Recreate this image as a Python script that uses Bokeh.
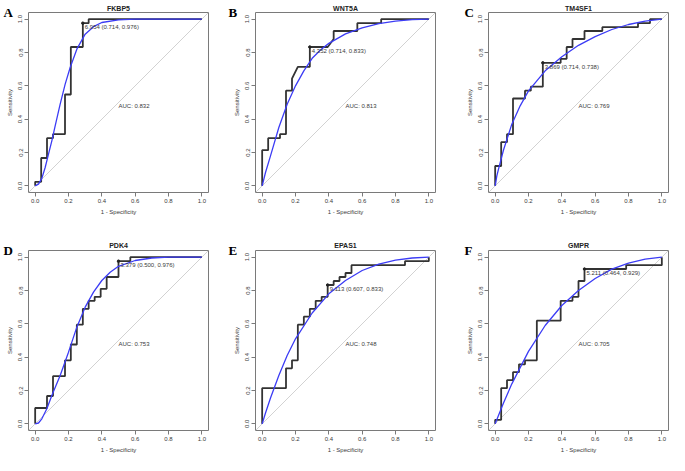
from bokeh.plotting import figure
from bokeh.layouts import column, row
from bokeh.models import Title, Range1d, NumeralTickFormatter, FixedTicker
from bokeh.core.properties import value
from bokeh.embed import file_html
from bokeh.resources import INLINE

# ------------------------------------------------------------------ data
genes = ["FKBP5", "WNT5A", "TM4SF1", "PDK4", "EPAS1", "GMPR"]
letters = ["A", "B", "C", "D", "E", "F"]
auc_values = [0.832, 0.813, 0.769, 0.753, 0.748, 0.705]
thr_values = ["6.954", "4.352", "3.869", "3.379", "9.113", "5.211"]
thr_spec = [0.714, 0.714, 0.714, 0.500, 0.607, 0.464]
thr_sens = [0.976, 0.833, 0.738, 0.976, 0.833, 0.929]
tick_values = [0.0, 0.2, 0.4, 0.6, 0.8, 1.0]

# empirical ROC (1 - specificity, sensitivity) corner points
fkbp5_fpr = [0, 0, 0.036, 0.036, 0.071, 0.071, 0.107, 0.107, 0.179, 0.179, 0.214, 0.214, 0.286, 0.286, 0.321, 0.321, 1.0]
fkbp5_tpr = [0, 0.024, 0.024, 0.167, 0.167, 0.286, 0.286, 0.310, 0.310, 0.548, 0.548, 0.833, 0.833, 0.976, 0.976, 1.0, 1.0]

wnt5a_fpr = [0, 0, 0.036, 0.036, 0.107, 0.107, 0.143, 0.143, 0.179, 0.179, 0.214, 0.286, 0.286, 0.393, 0.429, 0.429, 0.571, 0.571, 0.714, 0.714, 1.0]
wnt5a_tpr = [0, 0.214, 0.214, 0.286, 0.286, 0.310, 0.310, 0.571, 0.571, 0.643, 0.714, 0.714, 0.833, 0.833, 0.881, 0.929, 0.929, 0.976, 0.976, 1.0, 1.0]

tm4sf1_fpr = [0, 0, 0.036, 0.036, 0.071, 0.071, 0.107, 0.107, 0.179, 0.179, 0.214, 0.214, 0.286, 0.286, 0.393, 0.393, 0.429, 0.429, 0.464, 0.464, 0.536, 0.536, 0.643, 0.643, 0.857, 0.857, 0.929, 0.929, 1.0]
tm4sf1_tpr = [0, 0.119, 0.119, 0.262, 0.262, 0.310, 0.310, 0.524, 0.524, 0.571, 0.571, 0.595, 0.595, 0.738, 0.738, 0.762, 0.762, 0.833, 0.833, 0.881, 0.881, 0.929, 0.929, 0.952, 0.952, 0.976, 0.976, 1.0, 1.0]

pdk4_fpr = [0, 0, 0.071, 0.071, 0.107, 0.107, 0.179, 0.179, 0.214, 0.214, 0.250, 0.250, 0.286, 0.286, 0.321, 0.321, 0.357, 0.357, 0.393, 0.393, 0.429, 0.429, 0.500, 0.500, 0.571, 0.571, 1.0]
pdk4_tpr = [0, 0.095, 0.095, 0.167, 0.167, 0.286, 0.286, 0.381, 0.381, 0.476, 0.476, 0.595, 0.595, 0.690, 0.690, 0.738, 0.738, 0.762, 0.762, 0.810, 0.810, 0.881, 0.881, 0.976, 0.976, 1.0, 1.0]

epas1_fpr = [0, 0, 0.143, 0.143, 0.179, 0.179, 0.214, 0.214, 0.250, 0.250, 0.286, 0.286, 0.321, 0.321, 0.357, 0.357, 0.393, 0.393, 0.429, 0.429, 0.464, 0.464, 0.500, 0.500, 0.536, 0.536, 0.857, 0.857, 1.0, 1.0]
epas1_tpr = [0, 0.214, 0.214, 0.333, 0.333, 0.381, 0.381, 0.595, 0.595, 0.643, 0.643, 0.690, 0.690, 0.738, 0.738, 0.762, 0.762, 0.833, 0.833, 0.857, 0.857, 0.881, 0.881, 0.905, 0.905, 0.952, 0.952, 0.976, 0.976, 1.0]

gmpr_fpr = [0, 0, 0.036, 0.036, 0.071, 0.071, 0.107, 0.107, 0.143, 0.143, 0.179, 0.179, 0.250, 0.250, 0.393, 0.393, 0.464, 0.464, 0.500, 0.500, 0.536, 0.536, 0.786, 0.786, 1.0, 1.0]
gmpr_tpr = [0, 0.024, 0.024, 0.214, 0.214, 0.262, 0.262, 0.310, 0.310, 0.357, 0.357, 0.381, 0.381, 0.619, 0.619, 0.738, 0.738, 0.762, 0.762, 0.857, 0.857, 0.929, 0.929, 0.952, 0.952, 1.0]

# smoothed ROC curves
fkbp5_s_fpr = [0, 0.02, 0.04, 0.06, 0.08, 0.10, 0.12, 0.15, 0.18, 0.21, 0.25, 0.30, 0.35, 0.40, 0.50, 0.60, 1.0]
fkbp5_s_tpr = [0, 0.01, 0.045, 0.11, 0.19, 0.27, 0.36, 0.49, 0.61, 0.71, 0.82, 0.91, 0.955, 0.98, 0.996, 1.0, 1.0]

wnt5a_s_fpr = [0, 0.02, 0.05, 0.10, 0.15, 0.20, 0.25, 0.30, 0.35, 0.40, 0.50, 0.60, 0.70, 0.80, 0.90, 1.0]
wnt5a_s_tpr = [0, 0.08, 0.18, 0.35, 0.49, 0.60, 0.69, 0.765, 0.815, 0.855, 0.912, 0.948, 0.973, 0.988, 0.997, 1.0]

tm4sf1_s_fpr = [0, 0.01, 0.02, 0.05, 0.10, 0.15, 0.20, 0.30, 0.40, 0.50, 0.60, 0.70, 0.80, 0.90, 1.0]
tm4sf1_s_tpr = [0, 0.06, 0.10, 0.215, 0.37, 0.48, 0.57, 0.69, 0.775, 0.843, 0.895, 0.938, 0.968, 0.988, 1.0]

pdk4_s_fpr = [0, 0.02, 0.04, 0.07, 0.10, 0.15, 0.20, 0.25, 0.30, 0.35, 0.40, 0.45, 0.50, 0.60, 0.70, 0.80, 1.0]
pdk4_s_tpr = [0, 0.005, 0.03, 0.09, 0.17, 0.29, 0.43, 0.58, 0.70, 0.79, 0.86, 0.91, 0.945, 0.98, 0.995, 1.0, 1.0]

epas1_s_fpr = [0, 0.02, 0.05, 0.10, 0.15, 0.20, 0.30, 0.40, 0.50, 0.60, 0.70, 0.80, 0.90, 1.0]
epas1_s_tpr = [0, 0.065, 0.155, 0.29, 0.41, 0.51, 0.665, 0.78, 0.86, 0.92, 0.958, 0.982, 0.995, 1.0]

gmpr_s_fpr = [0, 0.05, 0.10, 0.20, 0.30, 0.40, 0.50, 0.60, 0.70, 0.80, 0.90, 1.0]
gmpr_s_tpr = [0, 0.125, 0.24, 0.435, 0.59, 0.71, 0.80, 0.872, 0.928, 0.964, 0.988, 1.0]

roc_fpr = [fkbp5_fpr, wnt5a_fpr, tm4sf1_fpr, pdk4_fpr, epas1_fpr, gmpr_fpr]
roc_tpr = [fkbp5_tpr, wnt5a_tpr, tm4sf1_tpr, pdk4_tpr, epas1_tpr, gmpr_tpr]
smooth_fpr = [fkbp5_s_fpr, wnt5a_s_fpr, tm4sf1_s_fpr, pdk4_s_fpr, epas1_s_fpr, gmpr_s_fpr]
smooth_tpr = [fkbp5_s_tpr, wnt5a_s_tpr, tm4sf1_s_tpr, pdk4_s_tpr, epas1_s_tpr, gmpr_s_tpr]

# ------------------------------------------------------------------ layout
FRAME = 180
LO, HI = -0.04, 1.04
LEFT = [28, 35, 44]
RIGHT = [12, 9, 1]
TOP = [12, 20]
BOTTOM = [38, 25]
TITLE_STANDOFF = [1, 4]
LETTER_OFFSET = [-25, -27, -24]   # shift of the letter left of the frame
LETTER_STANDOFF = [-20, -19]

FONT = "Liberation Sans"
TXT = "#3a3a3a"
BOX = "#7a7a7a"


def make_panel(i):
    c, r = i % 3, i // 3
    p = figure(
        width=LEFT[c] + FRAME + RIGHT[c],
        height=TOP[r] + FRAME + BOTTOM[r],
        min_border_left=LEFT[c], min_border_right=RIGHT[c],
        min_border_top=TOP[r], min_border_bottom=BOTTOM[r],
        x_range=Range1d(LO, HI), y_range=Range1d(LO, HI),
        output_backend="svg", toolbar_location=None,
        x_axis_label="1 - Specificity", y_axis_label="Sensitivity",
    )
    p.grid.visible = False
    p.outline_line_color = BOX
    p.outline_line_width = 1
    p.background_fill_color = "white"
    p.border_fill_color = "white"

    p.title.text = genes[i]
    p.title.align = "center"
    p.title.text_font = FONT
    p.title.text_font_size = "7px"
    p.title.text_font_style = "bold"
    p.title.text_color = "#222222"
    p.title.standoff = TITLE_STANDOFF[r]

    # panel letter as an outer title pulled down onto the same line
    p.add_layout(Title(text=letters[i], align="left", offset=LETTER_OFFSET[c],
                       standoff=LETTER_STANDOFF[r], vertical_align="middle",
                       text_font="Liberation Serif", text_font_style="bold",
                       text_font_size="13px", text_color="black"), "above")

    for ax in (p.xaxis[0], p.yaxis[0]):
        ax.ticker = FixedTicker(ticks=tick_values)
        ax.formatter = NumeralTickFormatter(format="0.0")
        ax.axis_line_color = None
        ax.major_tick_in = 0
        ax.major_tick_out = 4
        ax.major_tick_line_color = BOX
        ax.minor_tick_line_color = None
        ax.major_label_text_font = FONT
        ax.major_label_text_font_size = "6px"
        ax.major_label_text_color = TXT
        ax.major_label_standoff = 2
        ax.axis_label_text_font = FONT
        ax.axis_label_text_font_size = "6px"
        ax.axis_label_text_font_style = "normal"
        ax.axis_label_text_color = TXT
        ax.axis_label_standoff = 3
    p.yaxis.major_label_orientation = "vertical"

    # chance diagonal across the whole plotting region
    p.line(x=[LO, HI], y=[LO, HI], line_color="#d2d2d2", line_width=1)
    # empirical ROC
    p.line(x=roc_fpr[i], y=roc_tpr[i], line_color="#333333", line_width=1.8)
    # smoothed ROC
    p.line(x=smooth_fpr[i], y=smooth_tpr[i], line_color="#3c3cf5", line_width=1.3)

    # best threshold
    tx = 1 - thr_spec[i]
    ty = thr_sens[i]
    p.scatter(x=[tx], y=[ty], size=2.5, color="#222222")
    p.text(x=[tx], y=[ty],
           text=[f"{thr_values[i]} ({thr_spec[i]:.3f}, {thr_sens[i]:.3f})"],
           text_align="left", text_baseline="top", x_offset=2, y_offset=1,
           text_font=value(FONT), text_font_size="6px", text_color=TXT)
    # AUC
    p.text(x=[0.5], y=[0.5], text=[f"AUC: {auc_values[i]:.3f}"],
           text_align="left", text_baseline="top",
           text_font=value(FONT), text_font_size="6px", text_color=TXT)
    return p


panels = [make_panel(i) for i in range(6)]
layout = column(row(*panels[:3]), row(*panels[3:]))

open("out.html", "w").write(file_html(layout, INLINE))
